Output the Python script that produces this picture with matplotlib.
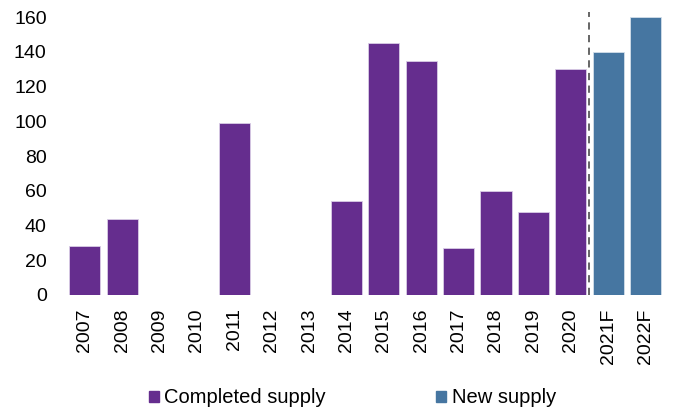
import matplotlib
matplotlib.use("Agg")
import matplotlib.pyplot as plt
from matplotlib.patches import Patch

years = ["2007", "2008", "2009", "2010", "2011", "2012", "2013", "2014",
         "2015", "2016", "2017", "2018", "2019", "2020", "2021F", "2022F"]
completed = [28, 44, 0, 0, 99, 0, 0, 54, 145, 135, 27, 60, 48, 130, 0, 0]
new_supply = [0, 0, 0, 0, 0, 0, 0, 0, 0, 0, 0, 0, 0, 0, 140, 160]

PURPLE = "#652d8e"
BLUE = "#4676a1"

plt.rcParams["font.family"] = ["Liberation Sans", "DejaVu Sans"]

fig = plt.figure(figsize=(6.75, 4.12), dpi=100)
ax = fig.add_axes([0.098, 0.284, 0.886, 0.687])

x = list(range(len(years)))
ax.bar(x, completed, width=0.83, color=PURPLE, edgecolor="#d9cde6", linewidth=0.6)
ax.bar(x, new_supply, width=0.83, color=BLUE, edgecolor="#d2deea", linewidth=0.6)
ax.axvline(13.5, color="#595959", linestyle=(0, (4, 3)), linewidth=1.3)

ax.set_xlim(-0.5, len(years) - 0.5)
ax.set_ylim(0, 163)
ax.set_yticks(range(0, 161, 20))
ax.set_xticks(x)
ax.set_xticklabels(years, rotation=90)
ax.tick_params(axis="both", length=0, labelsize=14, colors="black")
ax.tick_params(axis="x", pad=9.5)
ax.tick_params(axis="y", pad=14)
for s in ax.spines.values():
    s.set_visible(False)

handles = [Patch(color=PURPLE, label="Completed supply"),
           Patch(color=BLUE, label="New supply")]
fig.legend(handles=handles, loc="center", bbox_to_anchor=(0.522, 0.034),
           ncol=2, frameon=False, fontsize=14.5, handlelength=0.5,
           handleheight=0.5, handletextpad=0.25, columnspacing=5.5,
           borderpad=0)

fig.savefig("out.png", dpi=100)
